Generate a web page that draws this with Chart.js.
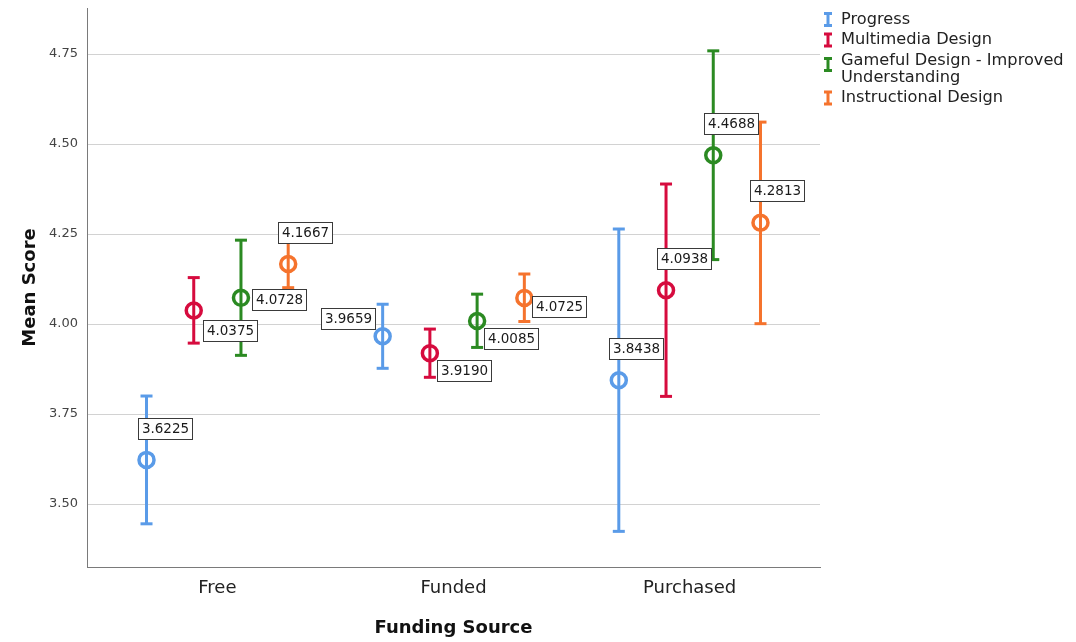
<!DOCTYPE html>
<html>
<head>
<meta charset="utf-8">
<title>Mean Score by Funding Source</title>
<script src="https://cdn.jsdelivr.net/npm/chart.js@4.4.1/dist/chart.umd.min.js"></script>
<style>
  html, body { margin: 0; padding: 0; background: #fff; }
  #wrap { width: 1076px; height: 642px; }
</style>
</head>
<body>
<div id="wrap"><canvas id="chart" width="1076" height="642"></canvas></div>
<script>
// Categories on the x axis
const categories = ['Free', 'Funded', 'Purchased'];

// Series names (legend order)
const seriesNames = ['Progress', 'Multimedia Design', 'Gameful Design - Improved Understanding', 'Instructional Design'];

// Means per category, with the lower / upper ends of each error bar
const progressMean = [3.6225, 3.9659, 3.8438];
const progressLow = [3.445, 3.877, 3.424];
const progressHigh = [3.800, 4.055, 4.264];

const multimediaMean = [4.0375, 3.9190, 4.0938];
const multimediaLow = [3.947, 3.852, 3.799];
const multimediaHigh = [4.129, 3.986, 4.389];

const gamefulMean = [4.0728, 4.0085, 4.4688];
const gamefulLow = [3.913, 3.935, 4.179];
const gamefulHigh = [4.233, 4.083, 4.759];

const instructionalMean = [4.1667, 4.0725, 4.2813];
const instructionalLow = [4.101, 4.007, 4.001];
const instructionalHigh = [4.233, 4.139, 4.561];

// Y axis tick values
const yTicks = [3.50, 3.75, 4.00, 4.25, 4.50, 4.75];

// ---- presentation ----
const colors = ['#5a9be8', '#d60b3e', '#2b8a22', '#f5732d'];
const groupOffsets = [-0.3, -0.1, 0.1, 0.3];   // position of each series inside a category
// where each value box sits relative to its point (px, box centre)
const labelShift = [
  [[18, -31], [-35, -18], [17.5, -31.5]],
  [[36, 20], [34, 17], [17.5, -31.5]],
  [[38, 2], [34, 18], [17.5, -31.5]],
  [[17, -32], [35, 9], [17, -32]]
];

const means = [progressMean, multimediaMean, gamefulMean, instructionalMean];
const lows = [progressLow, multimediaLow, gamefulLow, instructionalLow];
const highs = [progressHigh, multimediaHigh, gamefulHigh, instructionalHigh];

const FONT = '"DejaVu Sans", "Noto Sans", sans-serif';

const datasets = [];
seriesNames.forEach((name, s) => {
  // error bar: vertical segment with caps at both ends
  const bars = [];
  categories.forEach((c, i) => {
    const x = i + groupOffsets[s];
    bars.push({ x: x, y: lows[s][i] });
    bars.push({ x: x, y: highs[s][i] });
    bars.push({ x: x, y: null });
  });
  datasets.push({
    type: 'line',
    label: name,
    data: bars,
    borderColor: colors[s],
    borderWidth: 3,
    spanGaps: false,
    pointStyle: 'line',
    pointRadius: 6,
    pointBorderWidth: 3,
    pointBorderColor: colors[s],
    pointBackgroundColor: colors[s],
    order: 2
  });
  // mean marker: hollow circle
  datasets.push({
    type: 'line',
    label: name + ' mean',
    isMean: true,
    series: s,
    data: categories.map((c, i) => ({ x: i + groupOffsets[s], y: means[s][i] })),
    showLine: false,
    pointStyle: 'circle',
    pointRadius: 7.5,
    pointBorderWidth: 3.5,
    pointBorderColor: colors[s],
    pointBackgroundColor: 'rgba(255,255,255,0)',
    order: 1
  });
});

// value boxes drawn on top of the marks
const valueBoxes = {
  id: 'valueBoxes',
  afterDatasetsDraw(chart) {
    const ctx = chart.ctx;
    ctx.save();
    ctx.font = '13.5px ' + FONT;
    ctx.textAlign = 'center';
    ctx.textBaseline = 'middle';
    chart.data.datasets.forEach((ds, di) => {
      if (!ds.isMean) return;
      const meta = chart.getDatasetMeta(di);
      meta.data.forEach((pt, i) => {
        const text = means[ds.series][i].toFixed(4);
        const sh = labelShift[ds.series][i];
        const cx = pt.x + sh[0];
        const cy = pt.y + sh[1];
        const w = Math.round(ctx.measureText(text).width + 7);
        const h = 21;
        const left = Math.round(cx - w / 2) + 0.5;
        const top = Math.round(cy - h / 2) + 0.5;
        ctx.fillStyle = '#ffffff';
        ctx.fillRect(left, top, w, h);
        ctx.strokeStyle = '#3a3a3a';
        ctx.lineWidth = 1;
        ctx.strokeRect(left, top, w, h);
        ctx.fillStyle = '#1a1a1a';
        ctx.fillText(text, left + w / 2, top + h / 2 + 0.5);
      });
    });
    ctx.restore();
  }
};

// legend at the top right, error-bar glyph + wrapped name
const sideLegend = {
  id: 'sideLegend',
  afterDraw(chart) {
    const ctx = chart.ctx;
    ctx.save();
    ctx.font = '16.2px ' + FONT;
    ctx.textBaseline = 'middle';
    ctx.textAlign = 'left';
    const textX = 841, iconX = 828;
    const maxW = chart.width - textX - 2;
    let y = 19.5;
    seriesNames.forEach((name, s) => {
      // simple word wrap
      const words = name.split(' ');
      const lines = [];
      let cur = '';
      words.forEach(wd => {
        const trial = cur ? cur + ' ' + wd : wd;
        if (ctx.measureText(trial).width > maxW && cur) { lines.push(cur); cur = wd; }
        else cur = trial;
      });
      lines.push(cur);
      ctx.fillStyle = '#222';
      lines.forEach((ln, k) => ctx.fillText(ln, textX, y + k * 17));
      const iy = lines.length > 1 ? y + 4 : y;
      ctx.strokeStyle = colors[s];
      ctx.lineWidth = 3;
      ctx.beginPath();
      ctx.moveTo(iconX, iy - 6); ctx.lineTo(iconX, iy + 6);
      ctx.moveTo(iconX - 4, iy - 6); ctx.lineTo(iconX + 4, iy - 6);
      ctx.moveTo(iconX - 4, iy + 6); ctx.lineTo(iconX + 4, iy + 6);
      ctx.stroke();
      y += 20.5 + (lines.length - 1) * 17;
    });
    ctx.restore();
  }
};

new Chart(document.getElementById('chart'), {
  data: { datasets: datasets },
  plugins: [valueBoxes, sideLegend],
  options: {
    responsive: false,
    devicePixelRatio: 1,
    animation: false,
    events: [],
    layout: { autoPadding: false, padding: { top: 8, right: 256, left: 0, bottom: 0 } },
    plugins: {
      legend: { display: false },
      tooltip: { enabled: false }
    },
    scales: {
      x: {
        type: 'linear',
        min: -0.552,
        max: 2.552,
        afterBuildTicks: s => { s.ticks = categories.map((c, i) => ({ value: i })); },
        afterFit: s => { s.height = 75; s.paddingLeft = 0; s.paddingRight = 0; },
        grid: { display: false },
        border: { display: true, color: '#7a7a7a', width: 1 },
        ticks: {
          autoSkip: false,
          maxRotation: 0,
          padding: 3,
          color: '#222',
          font: { family: FONT, size: 18 },
          callback: v => categories[v]
        },
        title: {
          display: true,
          text: 'Funding Source',
          color: '#111',
          font: { family: FONT, size: 18, weight: 'bold' },
          padding: { top: 0, bottom: 3 }
        }
      },
      y: {
        type: 'linear',
        min: 3.325,
        max: 4.878,
        afterBuildTicks: s => { s.ticks = yTicks.map(v => ({ value: v })); },
        afterFit: s => { s.width = 87; s.paddingTop = 0; s.paddingBottom = 0; },
        grid: { color: '#d2d2d2', lineWidth: 1, drawTicks: false },
        border: { display: true, color: '#7a7a7a', width: 1 },
        ticks: {
          padding: 9,
          color: '#444',
          font: { family: FONT, size: 13 },
          callback: v => Number(v).toFixed(2)
        },
        title: {
          display: true,
          text: 'Mean Score',
          color: '#111',
          font: { family: FONT, size: 18, weight: 'bold' },
          padding: { top: 20, bottom: 0 }
        }
      }
    }
  }
});
</script>
</body>
</html>
